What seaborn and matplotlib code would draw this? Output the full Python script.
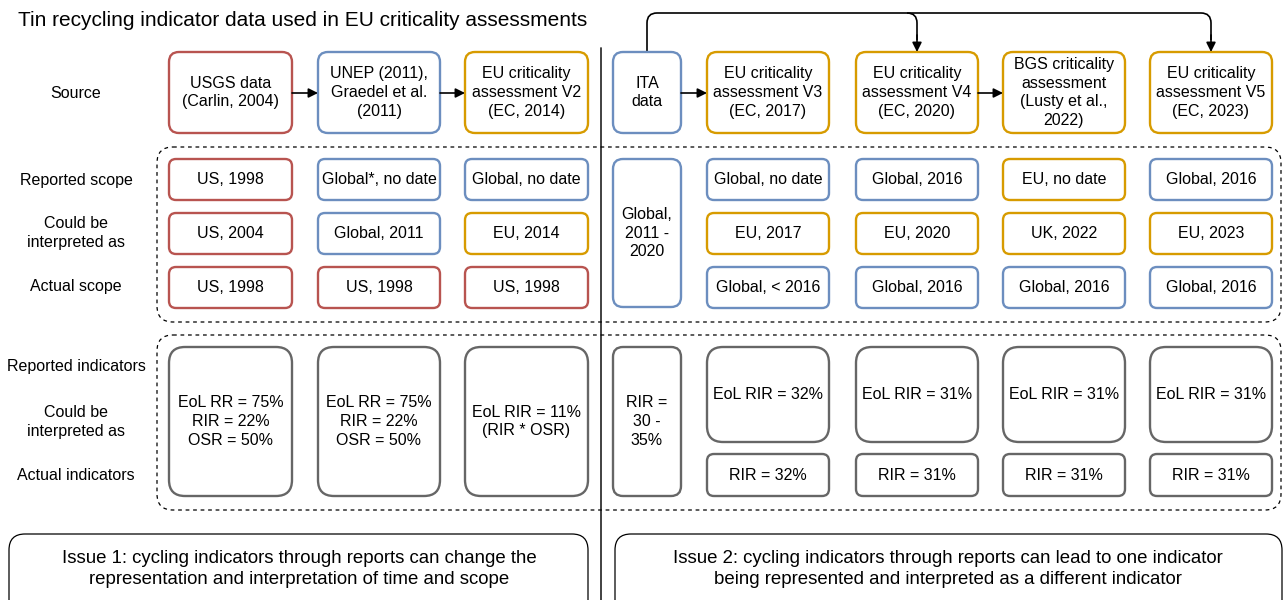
import matplotlib
matplotlib.use("Agg")
import seaborn as sns
import matplotlib.pyplot as plt
from matplotlib.patches import FancyBboxPatch
from matplotlib.path import Path
from matplotlib.patches import PathPatch

sns.set_theme(style="white")
plt.rcParams['font.family'] = ['Liberation Sans', 'DejaVu Sans']
plt.rcParams['text.color'] = 'black'

# ---- data ----
title = "Tin recycling indicator data used in EU criticality assessments"
source_label = "Source"
scope_labels = ["Reported scope", "Could be\ninterpreted as", "Actual scope"]
indicator_labels = ["Reported indicators", "Could be\ninterpreted as", "Actual indicators"]

sources = ["USGS data\n(Carlin, 2004)", "UNEP (2011),\nGraedel et al.\n(2011)",
           "EU criticality\nassessment V2\n(EC, 2014)", "ITA\ndata",
           "EU criticality\nassessment V3\n(EC, 2017)", "EU criticality\nassessment V4\n(EC, 2020)",
           "BGS criticality\nassessment\n(Lusty et al.,\n2022)", "EU criticality\nassessment V5\n(EC, 2023)"]
source_region = ["US", "Global", "EU", "Global", "EU", "EU", "UK", "EU"]

reported_scope = ["US, 1998", "Global*, no date", "Global, no date", "Global,\n2011 -\n2020",
                  "Global, no date", "Global, 2016", "EU, no date", "Global, 2016"]
interpreted_scope = ["US, 2004", "Global, 2011", "EU, 2014", None,
                     "EU, 2017", "EU, 2020", "UK, 2022", "EU, 2023"]
actual_scope = ["US, 1998", "US, 1998", "US, 1998", None,
                "Global, < 2016", "Global, 2016", "Global, 2016", "Global, 2016"]

reported_indicators = ["EoL RR = 75%\nRIR = 22%\nOSR = 50%", "EoL RR = 75%\nRIR = 22%\nOSR = 50%",
                       "EoL RIR = 11%\n(RIR * OSR)", "RIR =\n30 -\n35%",
                       "EoL RIR = 32%", "EoL RIR = 31%", "EoL RIR = 31%", "EoL RIR = 31%"]
actual_indicators = [None, None, None, None, "RIR = 32%", "RIR = 31%", "RIR = 31%", "RIR = 31%"]

issues = ["Issue 1: cycling indicators through reports can change the\nrepresentation and interpretation of time and scope",
          "Issue 2: cycling indicators through reports can lead to one indicator\nbeing represented and interpreted as a different indicator"]

# ---- style / layout ----
region_colors = {"US": "#b85450", "Global": "#6c8ebf", "EU": "#d79b00", "UK": "#d79b00"}
gray = "#666666"
fs = 11.5

col_left = [169, 318, 465, 613, 707, 856, 1003, 1150]
col_w = [123, 122, 123, 68, 122, 122, 122, 122]
ita = 3


def box(ax, x, y, w, h, color, text=None, r=8, lw=1.7, ls="-", fc="white", fontsize=fs):
    p = FancyBboxPatch((x, y), w, h, boxstyle=f"round,pad=0,rounding_size={r}",
                       fc=fc, ec=color, lw=lw, ls=ls, zorder=2)
    ax.add_patch(p)
    if text:
        ax.text(x + w / 2, y + h / 2, text, ha="center", va="center", fontsize=fontsize,
                linespacing=1.3, zorder=3)


def region_of(label):
    return label.split(",")[0].replace("*", "")


fig = plt.figure(figsize=(12.85, 6.0), dpi=100)
ax = fig.add_axes([0, 0, 1, 1])
ax.set_xlim(0, 1285)
ax.set_ylim(600, 0)
ax.axis("off")

ax.text(18, 20, title, fontsize=15, ha="left", va="center")

# divider
ax.plot([601, 601], [48, 600], color="#333333", lw=1.3, zorder=1)

# dashed containers
box(ax, 157, 147, 1124, 175, "black", r=16, lw=0.9, ls=(0, (3, 3)), fc="none")
box(ax, 157, 335, 1124, 175, "black", r=16, lw=0.9, ls=(0, (3, 3)), fc="none")

# row labels
ax.text(76, 93, source_label, ha="center", va="center", fontsize=fs)
for lab, y in zip(scope_labels, [180, 233, 287]):
    ax.text(76, y, lab, ha="center", va="center", fontsize=fs, linespacing=1.35)
for lab, y in zip(indicator_labels, [367, 422, 476]):
    ax.text(76, y, lab, ha="center", va="center", fontsize=fs, linespacing=1.35)

# sources
for i, (s, reg) in enumerate(zip(sources, source_region)):
    box(ax, col_left[i], 52, col_w[i], 81, region_colors[reg], s, r=10)

# arrows between sources
arrow_kw = dict(arrowstyle="-|>", color="black", lw=1.2, mutation_scale=14, shrinkA=0, shrinkB=0)
for a, b in [(0, 1), (1, 2), (3, 4), (5, 6)]:
    ax.annotate("", xy=(col_left[b], 93), xytext=(col_left[a] + col_w[a], 93), arrowprops=arrow_kw)

# top connector from ITA to V4 and V5
xi = col_left[ita] + col_w[ita] / 2
x4 = col_left[5] + col_w[5] / 2
x5 = col_left[7] + col_w[7] / 2
yt, rr = 13, 10
verts = [(xi, 52), (xi, yt + rr), (xi, yt), (xi + rr, yt), (x5 - rr, yt), (x5, yt), (x5, yt + rr), (x5, 40)]
codes = [Path.MOVETO, Path.LINETO, Path.CURVE3, Path.CURVE3, Path.LINETO, Path.CURVE3, Path.CURVE3, Path.LINETO]
ax.add_patch(PathPatch(Path(verts, codes), fc="none", ec="black", lw=1.2))
verts2 = [(x4 - rr, yt), (x4, yt), (x4, yt + rr), (x4, 40)]
codes2 = [Path.MOVETO, Path.CURVE3, Path.CURVE3, Path.LINETO]
ax.add_patch(PathPatch(Path(verts2, codes2), fc="none", ec="black", lw=1.2))
for xx in [x4, x5]:
    ax.annotate("", xy=(xx, 52), xytext=(xx, 35), arrowprops=arrow_kw)

# scope rows
row_y = [159, 213, 267]
for i in range(len(col_left)):
    if i == ita:
        box(ax, col_left[i], 159, col_w[i], 148, region_colors[region_of(reported_scope[i])],
            reported_scope[i], r=10)
        continue
    for lab, y in zip([reported_scope[i], interpreted_scope[i], actual_scope[i]], row_y):
        box(ax, col_left[i], y, col_w[i], 41, region_colors[region_of(lab)], lab, r=7)

# indicator rows
for i in range(len(col_left)):
    if actual_indicators[i] is None:
        box(ax, col_left[i], 347, col_w[i], 149, gray, reported_indicators[i],
            r=10 if i == ita else 16)
    else:
        box(ax, col_left[i], 347, col_w[i], 95, gray, reported_indicators[i], r=16)
        box(ax, col_left[i], 454, col_w[i], 42, gray, actual_indicators[i], r=7)

# issue boxes
box(ax, 9, 534, 579, 90, "black", r=16, lw=0.9)
box(ax, 615, 534, 667, 90, "black", r=16, lw=0.9)
ax.text(299, 569, issues[0], ha="center", va="center", fontsize=13.4, linespacing=1.32)
ax.text(948, 569, issues[1], ha="center", va="center", fontsize=13.4, linespacing=1.32)

fig.savefig("out.png", dpi=100)
